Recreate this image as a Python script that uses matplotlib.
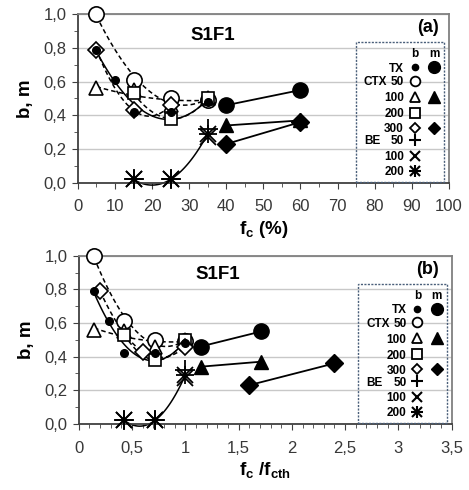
import numpy as np
import matplotlib
matplotlib.use("Agg")
import matplotlib.pyplot as plt
from matplotlib.patches import Rectangle
from matplotlib.ticker import MultipleLocator, FuncFormatter

plt.rcParams['font.family'] = ['Liberation Sans', 'DejaVu Sans']
plt.rcParams['mathtext.fontset'] = 'custom'
plt.rcParams['mathtext.rm'] = 'Liberation Sans'
plt.rcParams['mathtext.bf'] = 'Liberation Sans:bold'

# sample S1F1 : b (below threshold) and m (above threshold) vs fines content
tx_fc = [5, 10, 15, 25, 35]
tx_b = [0.79, 0.61, 0.42, 0.42, 0.48]
tx_fc_m = [40, 60]
tx_m = [0.46, 0.55]

ctx50_fc = [5, 15, 25, 35]
ctx50_b = [1.00, 0.61, 0.50, 0.49]

ctx100_fc = [5, 15, 25, 35]
ctx100_b = [0.56, 0.55, 0.46, 0.50]
ctx100_fc_m = [40, 60]
ctx100_m = [0.34, 0.37]

ctx200_fc = [15, 25, 35]
ctx200_b = [0.53, 0.38, 0.50]

ctx300_fc = [5, 15, 25]
ctx300_b = [0.79, 0.43, 0.46]
ctx300_fc_m = [40, 60]
ctx300_m = [0.23, 0.36]

be_fc = [15, 25, 35]
be50_b = [0.02, 0.02, 0.32]
be100_b = [0.02, 0.02, 0.27]
be200_b = [0.02, 0.02, 0.29]

# threshold fines content (%)
fcth_tx = 35
fcth_ctx = 35
fcth_ctx300 = 25
fcth_be = 35

legend_rows = ["TX", "CTX 50", "100", "200", "300", "BE  50", "100", "200"]


def trend(ax, x, y, ls):
    c = np.polyfit(x, y, 2)
    xs = np.linspace(min(x), max(x), 100)
    ax.plot(xs, np.polyval(c, xs), color='black', ls=ls, lw=1.1, zorder=2, clip_on=False)


def star(ax, x, y, ms, **kw):
    ax.plot(x, y, ls='none', marker='+', ms=ms, mew=1.3, color='black', **kw)
    ax.plot(x, y, ls='none', marker='x', ms=ms * 0.85, mew=1.3, color='black', **kw)


def panel(ax, norm):
    def sc(x, th):
        return np.array(x, dtype=float) / th if norm else np.array(x, dtype=float)

    dash = (0, (3, 2))
    op = dict(ls='none', mfc='white', mec='black', mew=1.2, zorder=4, clip_on=False)
    fl = dict(ls='none', color='black', zorder=5, clip_on=False)

    # trend lines through b
    trend(ax, sc(ctx50_fc, fcth_ctx), ctx50_b, dash)
    trend(ax, sc(ctx100_fc, fcth_ctx), ctx100_b, dash)
    trend(ax, sc(ctx200_fc, fcth_ctx), ctx200_b, dash)
    trend(ax, sc(ctx300_fc, fcth_ctx300), ctx300_b, dash)
    trend(ax, sc(tx_fc, fcth_tx), tx_b, '-')
    trend(ax, sc(be_fc, fcth_be), be200_b, '-')

    # b points
    ax.plot(sc(ctx50_fc, fcth_ctx), ctx50_b, marker='o', ms=11, **op)
    ax.plot(sc(ctx100_fc, fcth_ctx), ctx100_b, marker='^', ms=10, **op)
    ax.plot(sc(ctx200_fc, fcth_ctx), ctx200_b, marker='s', ms=9, **op)
    ax.plot(sc(ctx300_fc, fcth_ctx300), ctx300_b, marker='D', ms=8, **op)
    ax.plot(sc(tx_fc, fcth_tx), tx_b, marker='o', ms=5.5, **fl)
    ax.plot(sc(be_fc, fcth_be), be50_b, marker='+', ms=14, mew=1.3, **fl)
    ax.plot(sc(be_fc, fcth_be), be100_b, marker='x', ms=11, mew=1.3, **fl)
    star(ax, sc(be_fc, fcth_be), be200_b, 13, zorder=5, clip_on=False)

    # m points
    ax.plot(sc(tx_fc_m, fcth_tx), tx_m, '-', marker='o', ms=11, color='black', lw=1.3, zorder=5)
    ax.plot(sc(ctx100_fc_m, fcth_ctx), ctx100_m, '-', marker='^', ms=10, color='black', lw=1.3, zorder=5)
    ax.plot(sc(ctx300_fc_m, fcth_ctx300), ctx300_m, '-', marker='D', ms=9, color='black', lw=1.3, zorder=5)

    ax.set_ylim(0, 1.0)
    ax.yaxis.set_major_locator(MultipleLocator(0.2))
    ax.yaxis.set_minor_locator(MultipleLocator(0.1))
    ax.grid(axis='y', which='major', color='#c8c8c8', lw=1.0, zorder=0)
    ax.set_axisbelow(True)
    comma = FuncFormatter(lambda v, p: ('%g' % round(v, 2)).replace('.', ','))
    ax.yaxis.set_major_formatter(FuncFormatter(lambda v, p: ('%.1f' % v).replace('.', ',')))
    ax.xaxis.set_major_formatter(comma)
    ax.tick_params(which='both', direction='out', labelsize=12, labelcolor='#383838', color='#404040')
    ax.tick_params(which='major', length=4)
    ax.tick_params(which='minor', length=3)
    ax.tick_params(axis='x', pad=8)
    ax.tick_params(axis='y', pad=4)
    for s in ['top', 'right']:
        ax.spines[s].set_color('#808080')
    for s in ['left', 'bottom']:
        ax.spines[s].set_color('#404040')
    for s in ax.spines.values():
        s.set_linewidth(1.3)
    ax.set_ylabel('b, m', fontsize=13.5, fontweight='bold', labelpad=7)

    # legend table
    tr = ax.transAxes
    ax.add_patch(Rectangle((0.75, 0.005), 0.238, 0.83, transform=tr, fill=False,
                           ec='#4a5f7a', lw=1.0, ls=(0, (1.5, 1)), zorder=6, clip_on=False))
    xb, xm, xl, xn = 0.908, 0.960, 0.771, 0.879
    ys = [0.686, 0.604, 0.509, 0.414, 0.325, 0.254, 0.160, 0.071]
    tk = dict(transform=tr, fontsize=8.5, fontweight='bold', va='center_baseline', zorder=7)
    ax.text(xb, 0.772, 'b', ha='center', **tk)
    ax.text(xm, 0.772, 'm', ha='center', **tk)
    for lab, y in zip(legend_rows, ys):
        parts = lab.split()
        ax.text(xn, y, parts[-1], ha='right', **tk)
        if len(parts) > 1:
            ax.text(xl, y, parts[0], ha='left', **tk)
    lm = dict(transform=tr, ls='none', color='black', zorder=7, clip_on=False)
    lo = dict(transform=tr, ls='none', mfc='white', mec='black', mew=1.3, zorder=7, clip_on=False)
    ax.plot([xb], [ys[0]], marker='o', ms=4.5, **lm)
    ax.plot([xm], [ys[0]], marker='o', ms=8.5, **lm)
    ax.plot([xb], [ys[1]], marker='o', ms=7, **lo)
    ax.plot([xb], [ys[2]], marker='^', ms=7.5, **lo)
    ax.plot([xm], [ys[2]], marker='^', ms=8.5, **lm)
    ax.plot([xb], [ys[3]], marker='s', ms=6.5, **lo)
    ax.plot([xb], [ys[4]], marker='D', ms=5.5, **lo)
    ax.plot([xm], [ys[4]], marker='D', ms=6.5, **lm)
    ax.plot([xb], [ys[5]], marker='+', ms=8.5, mew=1.5, **lm)
    ax.plot([xb], [ys[6]], marker='x', ms=7, mew=1.5, **lm)
    ax.plot([xb], [ys[7]], marker='+', ms=8.5, mew=1.5, **lm)
    ax.plot([xb], [ys[7]], marker='x', ms=7, mew=1.5, **lm)


fig = plt.figure(figsize=(4.69, 4.90), dpi=100)
ax1 = fig.add_axes([0.166, 0.627, 0.791, 0.344])
ax2 = fig.add_axes([0.168, 0.135, 0.795, 0.343])

panel(ax1, False)
ax1.set_xlim(0, 100)
ax1.xaxis.set_major_locator(MultipleLocator(10))
ax1.xaxis.set_minor_locator(MultipleLocator(5))
ax1.set_xlabel(r'$\mathbf{f_c}$ (%)', fontsize=13.5, fontweight='bold', labelpad=3)
ax1.text(0.364, 0.876, 'S1F1', transform=ax1.transAxes, ha='center', va='center',
         fontsize=13.5, fontweight='bold')
ax1.text(0.943, 0.923, '(a)', transform=ax1.transAxes, ha='center', va='center',
         fontsize=13, fontweight='bold')

panel(ax2, True)
ax2.set_xlim(0, 3.5)
ax2.xaxis.set_major_locator(MultipleLocator(0.5))
ax2.xaxis.set_minor_locator(MultipleLocator(0.1))
ax2.set_xlabel(r'$\mathbf{f_c}$ /$\mathbf{f_{cth}}$', fontsize=13.5, fontweight='bold', labelpad=3)
ax2.text(0.373, 0.887, 'S1F1', transform=ax2.transAxes, ha='center', va='center',
         fontsize=13.5, fontweight='bold')
ax2.text(0.936, 0.92, '(b)', transform=ax2.transAxes, ha='center', va='center',
         fontsize=13, fontweight='bold')

plt.savefig('out.png', dpi=100)
